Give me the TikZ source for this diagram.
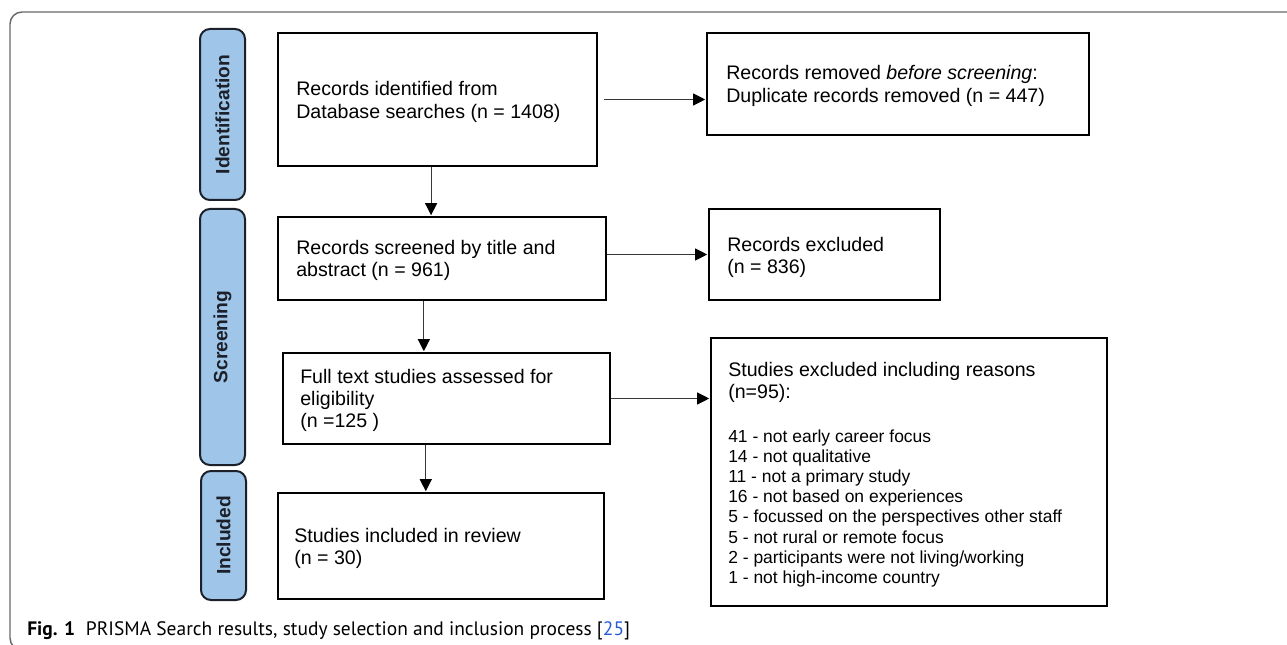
\documentclass[tikz,border=0pt]{standalone}
\usepackage{fontspec}
\setmainfont{Liberation Sans}
\newfontfamily\capfont{PT Sans}
\usetikzlibrary{fit,calc,arrows.meta}
\definecolor{labfill}{RGB}{159,197,232}
\definecolor{labdraw}{RGB}{28,32,42}
\definecolor{framegray}{RGB}{105,105,105}
\definecolor{arrgray}{RGB}{55,55,55}
\definecolor{citeblue}{RGB}{40,90,220}
\newcommand{\lines}[1]{\begin{tabular}[t]{@{}l@{}}#1\end{tabular}}
\begin{document}
\begin{tikzpicture}[x=0.75pt,y=-0.75pt,
  box/.style={draw=black,line width=1.5pt,inner sep=0pt},
  lab/.style={draw=labdraw,fill=labfill,line width=1.5pt,rounded corners=7.5pt,inner sep=0pt},
  labtxt/.style={rotate=90,font=\fontsize{14.4}{16}\selectfont\bfseries,text=labdraw,inner sep=0pt},
  txt/.style={anchor=base west,inner sep=0pt,font=\fontsize{14.7}{16.7}\selectfont},
  listtxt/.style={anchor=base west,inner sep=0pt,font=\fontsize{13.1}{15.15}\selectfont},
  arr/.style={draw=arrgray,line width=0.8pt,-{Triangle[length=9pt,width=9pt,color=black]},shorten >=0.6pt},
  frame/.style={draw=framegray,line width=1.1pt,rounded corners=9pt}
]
\useasboundingbox (0,0) rectangle (1287,645);
\clip (0,0) rectangle (1287,645);

% outer frame
\draw[frame] (10,12) rectangle (1320,650);

% stage labels
\node[lab,fit={(200,29) (245,200)}] (L1) {};
\node[labtxt] (L1t) at (L1.center) {Identification};
\node[lab,fit={(200,209) (245,465)}] (L2) {};
\node[labtxt] (L2t) at (L2.center) {Screening};
\node[lab,fit={(201,471) (246,600)}] (L3) {};
\node[labtxt] (L3t) at (L3.center) {Included};

% boxes
\node[box,fit={(278,33) (597,166)}] (A) {};
\node[box,fit={(707,33) (1089,135)}] (B) {};
\node[box,fit={(278,217) (606,300)}] (C) {};
\node[box,fit={(709,209) (940,300)}] (D) {};
\node[box,fit={(283,353) (610,444)}] (E) {};
\node[box,fit={(711,338) (1107,606)}] (F) {};
\node[box,fit={(278,493) (604,599)}] (G) {};

% texts
\node[txt] (At) at (296,96) {\lines{Records identified from\\Database searches (n = 1408)}};
\node[txt] (Bt) at (726,80) {\lines{Records removed \textit{before screening}:\\Duplicate records removed (n = 447)}};
\node[txt] (Ct) at (296,254) {\lines{Records screened by title and\\abstract (n = 961)}};
\node[txt] (Dt) at (727,251) {\lines{Records excluded\\(n = 836)}};
\node[txt] (Et) at (300,383) {\lines{Full text studies assessed for\\eligibility\\(n =125 )}};
\node[txt] (Ft) at (728,376) {\lines{Studies excluded including reasons\\(n=95):}};
\node[listtxt] (Fl) at (728,442) {\lines{41 - not early career focus\\
14 - not qualitative\\
11 - not a primary study\\
16 - not based on experiences\\
5 - focussed on the perspectives other staff\\
5 - not rural or remote focus\\
2 - participants were not living/working\\
1 - not high-income country}};
\node[txt] (Gt) at (294,542) {\lines{Studies included in review\\(n = 30)}};

% connector start points
\coordinate (a1) at ($(A.south west)!0.48!(A.south east)$);
\coordinate (c1) at ($(C.south west)!0.445!(C.south east)$);
\coordinate (e1) at ($(E.south west)!0.437!(E.south east)$);

% connectors
\draw[arr,shorten <=4.5pt] (A.east) -- (A.east -| B.west);
\draw[arr] (C.east |- D.west) -- (D.west);
\draw[arr] (E.east) -- (E.east -| F.west);
\draw[arr] (a1) -- (a1 |- C.north);
\draw[arr] (c1) -- (c1 |- E.north);
\draw[arr] (e1) -- (e1 |- G.north);

% caption
\node[anchor=base west,inner sep=0pt,font=\capfont\fontsize{14.6}{18}\selectfont] (cap) at (27,635)
  {\textbf{Fig. 1}\hspace{0.55em}PRISMA Search results, study selection and inclusion process [\textcolor{citeblue}{25}]};
\end{tikzpicture}
\end{document}
